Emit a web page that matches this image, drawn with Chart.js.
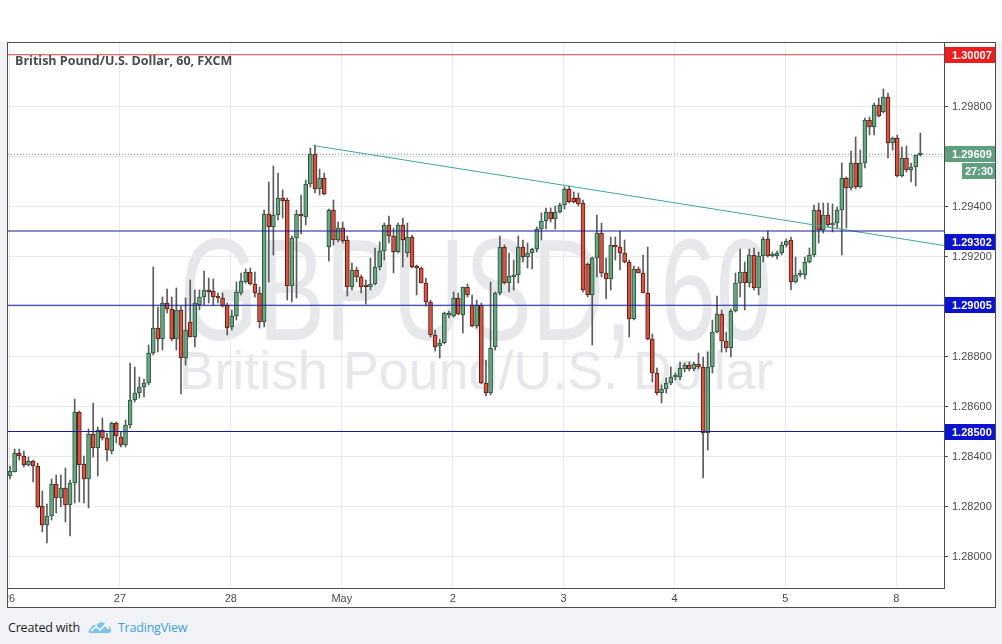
<!DOCTYPE html>
<html>
<head>
<meta charset="utf-8">
<title>GBPUSD, 60</title>
<script src="https://cdn.jsdelivr.net/npm/chart.js@4.4.1/dist/chart.umd.min.js"></script>
<style>
  html, body { margin: 0; padding: 0; }
  body { width: 1002px; height: 644px; background: #f1f3f6; position: relative; overflow: hidden; font-family: "Open Sans", sans-serif; }
  #top { position: absolute; left: 0; top: 0; width: 1002px; height: 42px; background: #fff; }
  #frame { position: absolute; left: 7px; top: 42px; width: 987px; height: 564px; border: 1px solid #4d4d4d; background: #fff; }
  #frame canvas { display: block; }
  #footer { position: absolute; left: 8px; top: 616px; height: 22px; display: flex; align-items: center; font-size: 12.5px; color: #1e1e1e; letter-spacing: -0.2px; }
  #footer svg { margin: 0 6px 0 8px; }
  #footer .tv { color: #3f9fd8; }
</style>
</head>
<body>
<div id="top"></div>
<div id="frame"><canvas id="gbpChart" width="987" height="564"></canvas></div>
<div id="footer">
  <span>Created with</span>
  <svg width="24" height="14" viewBox="0 0 24 14">
    <path d="M2 13 C0 13 0 9 3 8.5 C3 5 7 4 8.5 6 C10 1 17 1 18 6 C21 5.5 24 8 23 11 C22.5 13 21 13 20 13 Z" fill="#7cc2ea"/>
    <path d="M3 11 L8 6.5 L12 10 L17 5 L21 9" stroke="#fff" stroke-width="1.6" fill="none"/>
  </svg>
  <span class="tv">TradingView</span>
</div>
<script>
// hourly GBP/USD candles, 26 Apr - 8 May (FXCM)
const opens = [
  1.28322, 1.28338, 1.28414, 1.28402, 1.28366, 1.28382, 1.28362, 1.28202, 1.28126, 1.28162, 1.28290, 1.28234,
  1.28274, 1.28206, 1.28294, 1.28578, 1.28370, 1.28310, 1.28490, 1.28434, 1.28506, 1.28474, 1.28422, 1.28534,
  1.28478, 1.28446, 1.28526, 1.28626, 1.28654, 1.28678, 1.28694, 1.28814, 1.28914, 1.28870, 1.29014, 1.28990,
  1.28870, 1.28986, 1.28794, 1.28938, 1.28878, 1.29006, 1.29038, 1.29066, 1.29062, 1.29042, 1.29034, 1.29006,
  1.28918, 1.28962, 1.29054, 1.29098, 1.29138, 1.29090, 1.29054, 1.28938, 1.29370, 1.29318, 1.29366, 1.29434,
  1.29426, 1.29082, 1.29274, 1.29366, 1.29358, 1.29490, 1.29610, 1.29470, 1.29514, 1.29238, 1.29386, 1.29266,
  1.29314, 1.29266, 1.29078, 1.29146, 1.29118, 1.29082, 1.29078, 1.29090, 1.29158, 1.29222, 1.29326, 1.29282,
  1.29218, 1.29326, 1.29214, 1.29278, 1.29158, 1.29154, 1.29094, 1.29018, 1.28886, 1.28842, 1.28854, 1.28966,
  1.28962, 1.29034, 1.28966, 1.29078, 1.29006, 1.28922, 1.29006, 1.28694, 1.28654, 1.28838, 1.29054, 1.29238,
  1.29094, 1.29118, 1.29126, 1.29238, 1.29198, 1.29214, 1.29230, 1.29310, 1.29342, 1.29378, 1.29350, 1.29378,
  1.29406, 1.29470, 1.29434, 1.29434, 1.29414, 1.29170, 1.29046, 1.29194, 1.29294, 1.29134, 1.29110, 1.29246,
  1.29238, 1.29214, 1.29178, 1.28950, 1.29150, 1.29134, 1.29054, 1.28870, 1.28734, 1.28654, 1.28670, 1.28694,
  1.28718, 1.28718, 1.28750, 1.28766, 1.28750, 1.28770, 1.28758, 1.28494, 1.28758, 1.28898, 1.28970, 1.28862,
  1.28834, 1.28982, 1.29094, 1.29138, 1.29094, 1.29206, 1.29074, 1.29202, 1.29270, 1.29202, 1.29202, 1.29214,
  1.29246, 1.29266, 1.29098, 1.29126, 1.29126, 1.29178, 1.29206, 1.29386, 1.29306, 1.29366, 1.29326, 1.29334,
  1.29386, 1.29514, 1.29474, 1.29574, 1.29478, 1.29574, 1.29746, 1.29718, 1.29806, 1.29778, 1.29838, 1.29654,
  1.29674, 1.29522, 1.29594, 1.29546, 1.29558, 1.29606
];
const highs = [
  1.28362, 1.28430, 1.28430, 1.28422, 1.28398, 1.28386, 1.28374, 1.28262, 1.28210, 1.28310, 1.28326, 1.28326,
  1.28354, 1.28306, 1.28630, 1.28582, 1.28402, 1.28510, 1.28614, 1.28518, 1.28554, 1.28494, 1.28538, 1.28538,
  1.28498, 1.28546, 1.28774, 1.28758, 1.28718, 1.28710, 1.28846, 1.29158, 1.28998, 1.29038, 1.29070, 1.29038,
  1.29074, 1.29002, 1.29034, 1.29106, 1.29066, 1.29066, 1.29142, 1.29114, 1.29110, 1.29054, 1.29054, 1.29014,
  1.28986, 1.29098, 1.29134, 1.29150, 1.29154, 1.29138, 1.29078, 1.29386, 1.29498, 1.29562, 1.29534, 1.29466,
  1.29434, 1.29282, 1.29386, 1.29446, 1.29506, 1.29634, 1.29646, 1.29550, 1.29534, 1.29390, 1.29426, 1.29338,
  1.29338, 1.29282, 1.29174, 1.29158, 1.29126, 1.29106, 1.29194, 1.29234, 1.29258, 1.29334, 1.29362, 1.29314,
  1.29334, 1.29354, 1.29334, 1.29286, 1.29166, 1.29158, 1.29114, 1.29026, 1.28906, 1.28870, 1.28978, 1.28982,
  1.29058, 1.29054, 1.29078, 1.29090, 1.29046, 1.29026, 1.29014, 1.28786, 1.29098, 1.29058, 1.29282, 1.29246,
  1.29214, 1.29186, 1.29282, 1.29266, 1.29254, 1.29234, 1.29318, 1.29374, 1.29394, 1.29394, 1.29402, 1.29414,
  1.29478, 1.29482, 1.29458, 1.29454, 1.29426, 1.29174, 1.29198, 1.29366, 1.29334, 1.29194, 1.29278, 1.29278,
  1.29302, 1.29266, 1.29186, 1.29162, 1.29158, 1.29206, 1.29238, 1.28890, 1.28754, 1.28686, 1.28714, 1.28758,
  1.28734, 1.28778, 1.28774, 1.28778, 1.28778, 1.28814, 1.28798, 1.28818, 1.28946, 1.29042, 1.28986, 1.28898,
  1.28990, 1.29134, 1.29230, 1.29178, 1.29230, 1.29234, 1.29218, 1.29278, 1.29302, 1.29218, 1.29222, 1.29258,
  1.29270, 1.29278, 1.29198, 1.29146, 1.29198, 1.29234, 1.29406, 1.29414, 1.29414, 1.29414, 1.29410, 1.29398,
  1.29574, 1.29518, 1.29622, 1.29678, 1.29626, 1.29754, 1.29758, 1.29814, 1.29834, 1.29870, 1.29854, 1.29678,
  1.29686, 1.29638, 1.29642, 1.29574, 1.29606, 1.29694
];
const lows = [
  1.28310, 1.28338, 1.28386, 1.28358, 1.28362, 1.28298, 1.28194, 1.28098, 1.28054, 1.28146, 1.28174, 1.28198,
  1.28138, 1.28082, 1.28214, 1.28218, 1.28214, 1.28194, 1.28398, 1.28322, 1.28466, 1.28382, 1.28410, 1.28454,
  1.28438, 1.28438, 1.28514, 1.28618, 1.28634, 1.28638, 1.28686, 1.28806, 1.28818, 1.28826, 1.28974, 1.28862,
  1.28826, 1.28650, 1.28766, 1.28878, 1.28838, 1.28986, 1.29006, 1.29014, 1.29006, 1.29014, 1.28998, 1.28886,
  1.28906, 1.28946, 1.29046, 1.29094, 1.29086, 1.29038, 1.28914, 1.28918, 1.29098, 1.29206, 1.29346, 1.29354,
  1.29026, 1.29018, 1.29034, 1.29290, 1.29326, 1.29478, 1.29454, 1.29446, 1.29446, 1.29182, 1.29246, 1.29258,
  1.29254, 1.29042, 1.29066, 1.29098, 1.29054, 1.29010, 1.29066, 1.29086, 1.29146, 1.29186, 1.29254, 1.29134,
  1.29214, 1.29158, 1.29198, 1.29154, 1.29046, 1.29094, 1.29002, 1.28878, 1.28822, 1.28794, 1.28850, 1.28954,
  1.28958, 1.28966, 1.28894, 1.29038, 1.28918, 1.28914, 1.28690, 1.28642, 1.28646, 1.28826, 1.29046, 1.29090,
  1.29058, 1.29066, 1.29094, 1.29178, 1.29154, 1.29150, 1.29218, 1.29266, 1.29310, 1.29338, 1.29310, 1.29374,
  1.29390, 1.29414, 1.29414, 1.29402, 1.29058, 1.29038, 1.28846, 1.29118, 1.29118, 1.29030, 1.29066, 1.29186,
  1.29146, 1.29174, 1.28878, 1.28946, 1.29134, 1.29054, 1.28866, 1.28698, 1.28646, 1.28614, 1.28654, 1.28686,
  1.28706, 1.28706, 1.28738, 1.28742, 1.28742, 1.28750, 1.28314, 1.28426, 1.28734, 1.28894, 1.28818, 1.28818,
  1.28798, 1.28978, 1.29038, 1.28986, 1.29078, 1.29066, 1.29046, 1.29178, 1.29198, 1.29198, 1.29190, 1.29206,
  1.29238, 1.29066, 1.29094, 1.29118, 1.29110, 1.29174, 1.29198, 1.29254, 1.29294, 1.29318, 1.29298, 1.29314,
  1.29206, 1.29314, 1.29466, 1.29470, 1.29474, 1.29554, 1.29686, 1.29686, 1.29758, 1.29774, 1.29594, 1.29626,
  1.29518, 1.29518, 1.29538, 1.29498, 1.29482, 1.29602
];
const closes = [
  1.28342, 1.28414, 1.28402, 1.28366, 1.28382, 1.28362, 1.28198, 1.28126, 1.28162, 1.28290, 1.28234, 1.28274,
  1.28206, 1.28294, 1.28578, 1.28366, 1.28310, 1.28490, 1.28434, 1.28506, 1.28474, 1.28426, 1.28534, 1.28482,
  1.28446, 1.28526, 1.28626, 1.28654, 1.28678, 1.28694, 1.28814, 1.28914, 1.28870, 1.29014, 1.28990, 1.28870,
  1.28986, 1.28794, 1.28906, 1.28878, 1.29014, 1.29038, 1.29066, 1.29058, 1.29038, 1.29034, 1.29002, 1.28914,
  1.28962, 1.29058, 1.29102, 1.29138, 1.29090, 1.29054, 1.28938, 1.29370, 1.29318, 1.29366, 1.29434, 1.29422,
  1.29082, 1.29274, 1.29370, 1.29362, 1.29490, 1.29610, 1.29470, 1.29514, 1.29450, 1.29386, 1.29266, 1.29314,
  1.29262, 1.29078, 1.29146, 1.29118, 1.29078, 1.29078, 1.29090, 1.29158, 1.29222, 1.29326, 1.29282, 1.29218,
  1.29326, 1.29266, 1.29278, 1.29158, 1.29154, 1.29094, 1.29018, 1.28886, 1.28838, 1.28854, 1.28974, 1.28974,
  1.29034, 1.28970, 1.29078, 1.29046, 1.28922, 1.29006, 1.28694, 1.28654, 1.28834, 1.29054, 1.29238, 1.29094,
  1.29122, 1.29126, 1.29238, 1.29198, 1.29214, 1.29230, 1.29310, 1.29342, 1.29378, 1.29350, 1.29378, 1.29406,
  1.29470, 1.29418, 1.29418, 1.29410, 1.29066, 1.29046, 1.29194, 1.29294, 1.29134, 1.29110, 1.29246, 1.29238,
  1.29214, 1.29178, 1.28950, 1.29150, 1.29134, 1.29054, 1.28870, 1.28734, 1.28654, 1.28670, 1.28694, 1.28718,
  1.28722, 1.28754, 1.28766, 1.28750, 1.28770, 1.28758, 1.28494, 1.28758, 1.28898, 1.28970, 1.28862, 1.28834,
  1.28982, 1.29094, 1.29138, 1.29094, 1.29206, 1.29074, 1.29202, 1.29270, 1.29202, 1.29206, 1.29214, 1.29246,
  1.29262, 1.29098, 1.29126, 1.29130, 1.29178, 1.29206, 1.29386, 1.29306, 1.29366, 1.29326, 1.29334, 1.29386,
  1.29514, 1.29474, 1.29574, 1.29478, 1.29574, 1.29746, 1.29718, 1.29806, 1.29762, 1.29838, 1.29654, 1.29674,
  1.29522, 1.29594, 1.29546, 1.29558, 1.29606, 1.29609
];

const dayLabels = ["26", "27", "28", "May", "2", "3", "4", "5", "8"];
const dayStartIdx = [0, 24, 48, 72, 96, 120, 144, 168, 192];
const priceTicks = [1.280, 1.282, 1.284, 1.286, 1.288, 1.290, 1.292, 1.294, 1.296, 1.298];

const resistance = 1.30007;
const supportLevels = [1.29302, 1.29005, 1.28500];
const lastPrice = 1.29609;
const countdown = "27:30";
const trendIdx = [65.6, 202.1];
const trendPrice = [1.29644, 1.29244];

const X_MIN = -0.43, X_MAX = 202.12;
const Y_MIN = 1.27874, Y_MAX = 1.30054;

const UP = "#6ba583", UP_BORDER = "#225437";
const DOWN = "#d75442", DOWN_BORDER = "#5b1a13";

const idx = opens.map((_, i) => i);
const isUp = idx.map(i => closes[i] >= opens[i]);
const bodies = idx.map(i => ({ x: i, y: [Math.min(opens[i], closes[i]), Math.max(opens[i], closes[i])] }));
const wicks = idx.map(i => ({ x: i, y: [lows[i], highs[i]] }));

function hline(value, color, extra) {
  return Object.assign({
    type: "line",
    data: [{ x: X_MIN, y: value }, { x: X_MAX, y: value }],
    borderColor: color,
    borderWidth: 1,
    pointRadius: 0,
    order: 0
  }, extra || {});
}

function fitText(ctx, txt, cx, baseY, w, font) {
  ctx.font = font;
  const m = ctx.measureText(txt).width;
  ctx.save();
  ctx.translate(cx, baseY);
  ctx.scale(w / m, 1);
  ctx.textAlign = "center";
  ctx.textBaseline = "alphabetic";
  ctx.fillText(txt, 0, 0);
  ctx.restore();
}

const watermark = {
  id: "watermark",
  beforeDatasetsDraw(chart) {
    const { ctx, chartArea: a } = chart;
    const cx = (a.left + a.right) / 2;
    ctx.save();
    ctx.beginPath();
    ctx.rect(a.left, a.top, a.width, a.height);
    ctx.clip();
    ctx.fillStyle = "#e7e8ec";
    fitText(ctx, "GBPUSD, 60", cx, a.top + 297, 592, '144px "Liberation Sans"');
    fitText(ctx, "British Pound/U.S. Dollar", cx, a.top + 346, 595, '53px "Liberation Sans"');
    ctx.restore();
  }
};

function priceBox(ctx, y, left, right, bg, txt, pad) {
  ctx.fillStyle = bg;
  ctx.fillRect(left, Math.round(y) - 8, right - left, 16);
  ctx.fillStyle = "#fff";
  ctx.font = 'bold 11px "Liberation Sans"';
  ctx.textAlign = "left";
  ctx.textBaseline = "middle";
  ctx.fillText(txt, left + (pad == null ? 7 : pad), Math.round(y) + 0.5);
}

const overlay = {
  id: "overlay",
  afterDraw(chart) {
    const { ctx, chartArea: a } = chart;
    const ys = chart.scales.y;
    const L = a.right + 1, R = chart.width;
    ctx.save();
    priceBox(ctx, ys.getPixelForValue(resistance), L, R, "#ee1d1d", resistance.toFixed(5));
    const lp = ys.getPixelForValue(lastPrice);
    priceBox(ctx, lp, L, R, "#5f9f80", lastPrice.toFixed(5));
    priceBox(ctx, lp + 17, L + 17, R, "#5f9f80", countdown, 3);
    supportLevels.forEach((v, k) => {
      const shift = k === 0 ? 11 : 0;
      priceBox(ctx, ys.getPixelForValue(v) + shift, L, R, "#0b12d0", v.toFixed(5));
    });
    ctx.fillStyle = "#4a4a4a";
    ctx.font = 'bold 12.5px "Open Sans"';
    ctx.textAlign = "left";
    ctx.textBaseline = "alphabetic";
    ctx.fillText("British Pound/U.S. Dollar, 60, FXCM", a.left + 7, a.top + 22);
    ctx.restore();
  }
};

new Chart(document.getElementById("gbpChart"), {
  type: "bar",
  data: {
    datasets: [
      hline(resistance, "#d43b3b"),
      ...supportLevels.map(v => hline(v, "#1a1a9c")),
      {
        type: "line",
        data: trendIdx.map((x, k) => ({ x: x, y: trendPrice[k] })),
        borderColor: "#3fa59a",
        borderWidth: 1,
        pointRadius: 0,
        order: 0
      },
      {
        type: "bar",
        data: bodies,
        backgroundColor: isUp.map(u => u ? UP : DOWN),
        borderColor: isUp.map(u => u ? UP_BORDER : DOWN_BORDER),
        borderWidth: 1,
        borderSkipped: false,
        barThickness: 4,
        minBarLength: 2,
        grouped: false,
        order: 1
      },
      {
        type: "bar",
        data: wicks,
        backgroundColor: "#5c5c5c",
        barThickness: 1,
        grouped: false,
        order: 2
      },
      hline(lastPrice, "#6a9f86", { borderDash: [1, 2], order: 3 })
    ]
  },
  options: {
    responsive: false,
    animation: false,
    events: [],
    layout: { padding: 0 },
    plugins: { legend: { display: false }, tooltip: { enabled: false } },
    scales: {
      x: {
        type: "linear",
        min: X_MIN,
        max: X_MAX,
        offset: false,
        grid: { color: "#e9e9ea", drawTicks: false, offset: false },
        border: { display: true, color: "#4d4d4d" },
        ticks: {
          color: "#4a4a4a",
          font: { family: "Liberation Sans", size: 11 },
          padding: 4,
          maxRotation: 0,
          autoSkip: false,
          callback: (v, i) => dayLabels[i]
        },
        afterBuildTicks: scale => { scale.ticks = dayStartIdx.map(d => ({ value: d - 0.2 })); },
        afterFit: scale => { scale.height = 19; scale.paddingLeft = 0; scale.paddingRight = 0; }
      },
      y: {
        type: "linear",
        position: "right",
        min: Y_MIN,
        max: Y_MAX,
        grid: { color: "#e9e9ea", tickLength: 4, tickColor: "#4d4d4d" },
        border: { display: true, color: "#4d4d4d" },
        ticks: {
          color: "#4a4a4a",
          font: { family: "Liberation Sans", size: 11 },
          padding: 4,
          callback: v => v.toFixed(5)
        },
        afterBuildTicks: scale => { scale.ticks = priceTicks.map(v => ({ value: v })); },
        afterFit: scale => { scale.width = 51; scale.paddingTop = 0; scale.paddingBottom = 0; }
      }
    }
  },
  plugins: [watermark, overlay]
});
</script>
</body>
</html>
